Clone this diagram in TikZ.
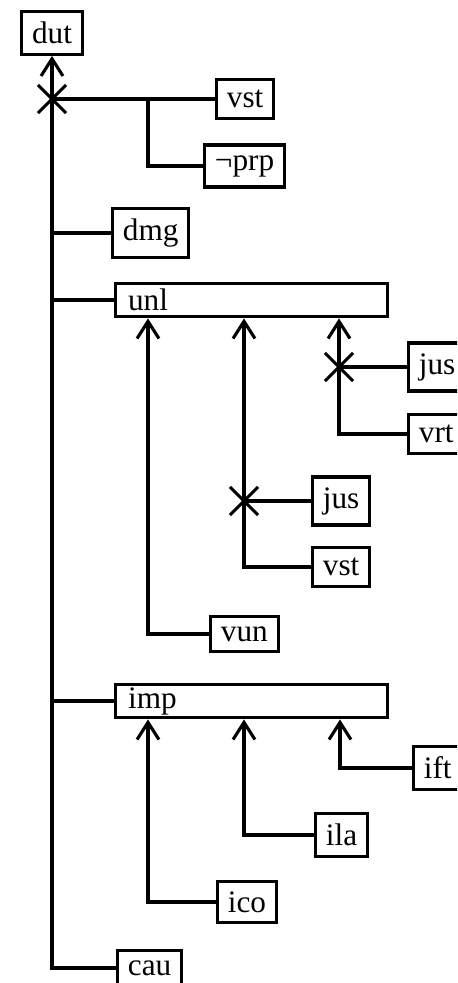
\documentclass[tikz,border=0pt]{standalone}
\usepackage{fontspec}
\setmainfont{Liberation Serif}
\usetikzlibrary{arrows.meta,calc,shapes.misc}

\begin{document}
\begin{tikzpicture}[x=0.32pt,y=-0.32pt,line width=1pt,
	box/.style={draw,anchor=west,inner sep=3.3pt},
	wide/.style={draw,anchor=west,minimum height=10.8pt,text width=79pt,align=left,inner xsep=4pt,inner ysep=1pt},
	feed/.style={-{Straight Barb[length=5.5pt,width=7pt]}},
	crossmark/.style={cross out,draw,minimum size=8pt,inner sep=0pt}]
	\useasboundingbox (0,0) rectangle (457,983);
	\clip (0,0) rectangle (457,983);
	
	\node[box,anchor=center] (dut) at (52,33) {dut};
	\node[box] (vstA) at (215,99) {vst};
	\node[box] (nprp) at (203,166) {¬prp};
	\node[box] (dmg) at (111,233) {dmg};
	\node[wide] (unl) at (114,300) {unl};
	\node[box] (jusA) at (407,367) {jus};
	\node[box] (vrt) at (407,434) {vrt};
	\node[box] (jusB) at (311,501) {jus};
	\node[box] (vstB) at (311,567) {vst};
	\node[box] (vun) at (209,634) {vun};
	\node[wide] (imp) at (114,701) {imp};
	\node[box] (ift) at (412,768) {ift};
	\node[box] (ila) at (314,835) {ila};
	\node[box] (ico) at (216,902) {ico};
	\node[box] (cau) at (116,968) {cau};
	
	\node[crossmark] (xA) at (52,99) {};
	\node[crossmark] (xB) at (339,367) {};
	\node[crossmark] (xC) at (244,501) {};
	\coordinate (fork) at (148,99);
	
	\draw[feed] (cau) -| (xA.center) -- (dut);
	\draw (vstA) -- (xA.center);
	\draw (nprp) -| (fork);
	\draw (dmg) -- (dmg -| dut);
	\draw (unl) -- (unl -| dut);
	\draw (imp) -- (imp -| dut);
	
	\draw (jusA) -- (xB.center);
	\draw[feed] (vrt) -| (xB.center) -- ($(unl.south west)+(225,0)$);
	\draw (jusB) -- (xC.center);
	\draw[feed] (vstB) -| (xC.center) -- ($(unl.south west)+(130,0)$);
	\draw[feed] (vun) -| ($(unl.south west)+(34,0)$);
	
	\draw[feed] (ift) -| ($(imp.south west)+(226,0)$);
	\draw[feed] (ila) -| ($(imp.south west)+(130,0)$);
	\draw[feed] (ico) -| ($(imp.south west)+(34,0)$);
\end{tikzpicture}
\end{document}
